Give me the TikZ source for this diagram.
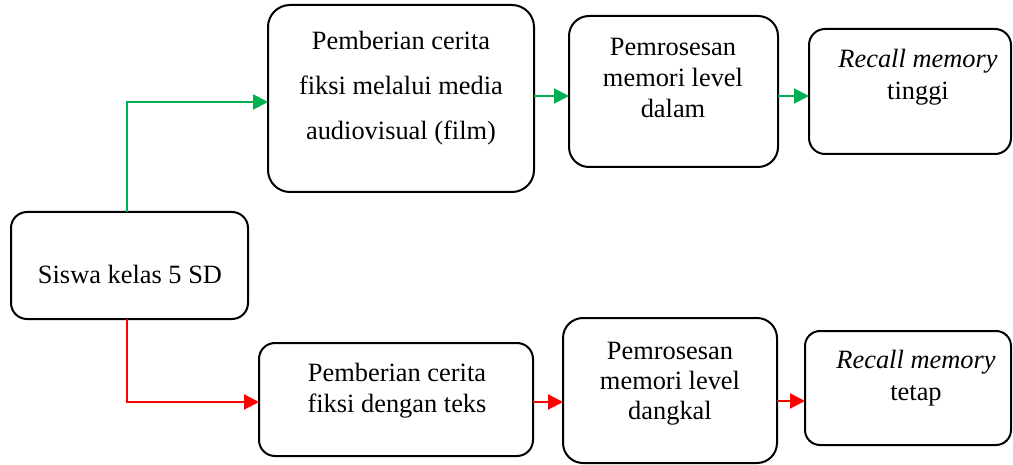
\documentclass[tikz,border=0pt]{standalone}
\usepackage{fontspec}
\setmainfont{Liberation Serif}
\usetikzlibrary{arrows.meta}
\definecolor{ggreen}{RGB}{0,176,80}
\definecolor{rred}{RGB}{255,0,0}
\begin{document}
\begin{tikzpicture}[x=0.5pt,y=-0.5pt,
  box/.style={draw=black, line width=1pt, rectangle, inner sep=0pt, outer sep=0pt},
  txt/.style={font=\fontsize{13.2}{15.5}\selectfont, align=center, inner sep=0pt, anchor=base},
  garrow/.style={draw=ggreen, line width=1pt, -{Triangle[length=7.5pt,width=7.5pt]}},
  rarrow/.style={draw=rred, line width=1pt, -{Triangle[length=7.5pt,width=7.5pt]}}]
\useasboundingbox (0,0) rectangle (1013,465);
% boxes
\node[box, minimum width=118.5pt, minimum height=53.5pt, rounded corners=8pt] (a) at (129.5,265.5) {};
\node[box, minimum width=133pt, minimum height=93.5pt, rounded corners=11pt] (b1) at (401,98.5) {};
\node[box, minimum width=104.5pt, minimum height=75.5pt, rounded corners=10pt] (b2) at (673.5,91.5) {};
\node[box, minimum width=101pt, minimum height=62.5pt, rounded corners=8pt] (b3) at (910,91.5) {};
\node[box, minimum width=137pt, minimum height=56.5pt, rounded corners=8pt] (c1) at (396,399.5) {};
\node[box, minimum width=107pt, minimum height=72.5pt, rounded corners=10pt] (c2) at (670,390.5) {};
\node[box, minimum width=103pt, minimum height=57pt, rounded corners=7.5pt] (c3) at (908,388) {};
% texts (anchored at the baseline of the last line)
\node[txt] (ta) at (130,283) {Siswa kelas 5 SD};
\node[txt, font=\fontsize{13.2}{22.5}\selectfont] (tb1) at (401,140) {Pemberian cerita\\fiksi melalui media\\audiovisual (film)};
\node[txt] (tb2) at (673,118) {Pemrosesan\\memori level\\dalam};
\node[txt, font=\fontsize{13.2}{16}\selectfont] (tb3) at (918,100) {\textit{Recall memory}\\tinggi};
\node[txt] (tc1) at (397,412) {Pemberian cerita\\fiksi dengan teks};
\node[txt, font=\fontsize{13.2}{15}\selectfont] (tc2) at (670,419) {Pemrosesan\\memori level\\dangkal};
\node[txt, font=\fontsize{13.2}{16}\selectfont] (tc3) at (916,400) {\textit{Recall memory}\\tetap};
% connectors
\draw[garrow] ([xshift=-1.25pt]a.north) |- ([yshift=-1.75pt]b1.west);
\draw[garrow] ([yshift=1.25pt]b1.east) -- ([yshift=1.25pt]b1.east -| b2.west);
\draw[garrow] ([yshift=-2.25pt]b2.east) -- ([yshift=-2.25pt]b2.east -| b3.west);
\draw[rarrow] ([xshift=-1.25pt]a.south) |- ([yshift=-1.25pt]c1.west);
\draw[rarrow] ([yshift=-1.25pt]c1.east) -- ([yshift=-1.25pt]c1.east -| c2.west);
\draw[rarrow] ([yshift=-5.25pt]c2.east) -- ([yshift=-5.25pt]c2.east -| c3.west);
\end{tikzpicture}
\end{document}
